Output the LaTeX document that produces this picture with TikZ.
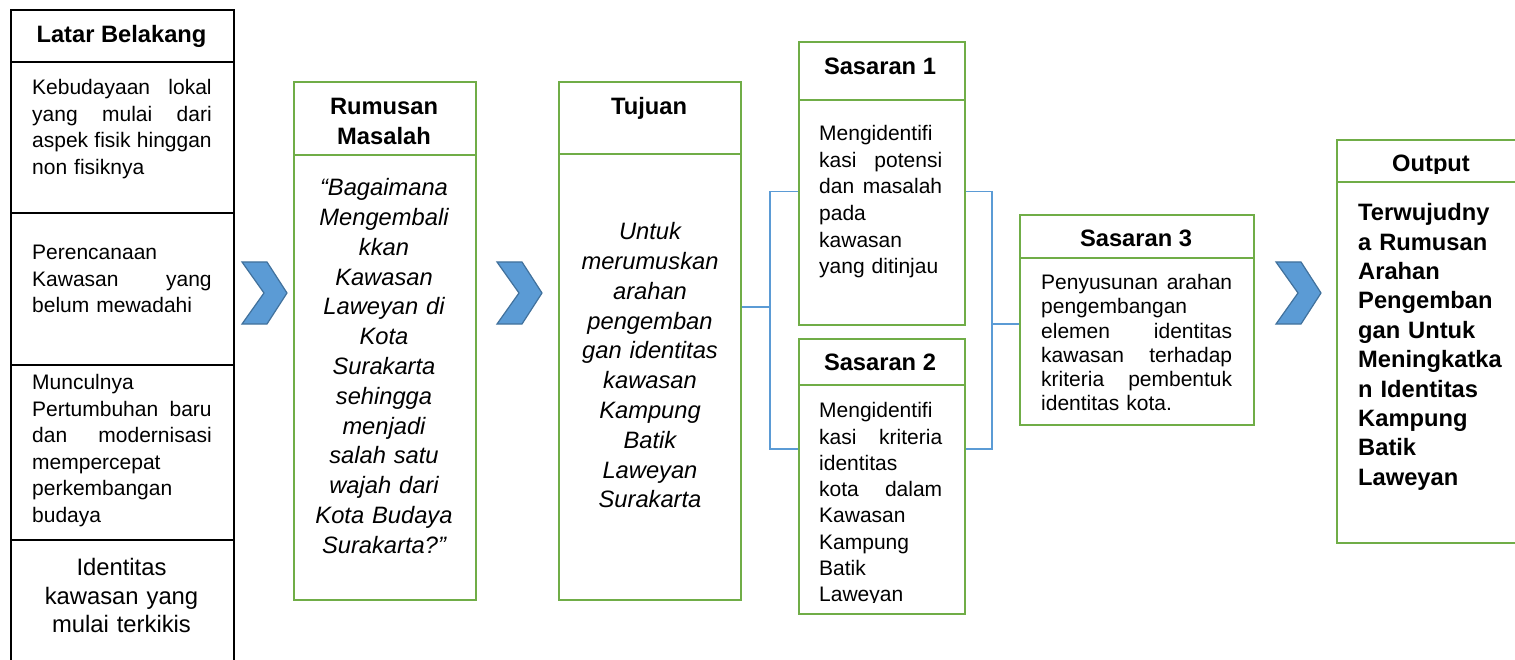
\documentclass[tikz,border=0pt]{standalone}
\usepackage{fontspec}
\setmainfont{Liberation Sans}
\definecolor{grn}{HTML}{70AD47}
\definecolor{blu}{HTML}{5B9BD5}
\definecolor{bludk}{HTML}{41719C}
\newcommand\jl[1]{\makebox[\linewidth][s]{\spaceskip=0pt\xspaceskip=0pt #1}}
\tikzset{
 gbox/.style={draw=grn, line width=2.4pt, inner sep=0pt, anchor=north west},
 kbox/.style={draw=black, line width=1.8pt, inner sep=0pt, anchor=north west},
 gline/.style={draw=grn, line width=2.4pt},
 kline/.style={draw=black, line width=1.8pt},
 conn/.style={draw=blu, line width=1.3pt},
 chev/.style={fill=blu, draw=bludk, line width=1.2pt, line join=miter},
 hd/.style={font=\fontsize{23.7}{30}\selectfont\bfseries, inner sep=0pt, anchor=base},
 bd/.style={font=\fontsize{21}{26.5}\selectfont, inner sep=0pt, anchor=north west, align=left},
 it/.style={font=\fontsize{23.7}{29.8}\selectfont\itshape, inner sep=0pt, anchor=north, align=center, text width=180pt},
 chevpic/.pic={\draw[chev] (0,0) -- (25,0) -- (45,31) -- (25,62) -- (0,62) -- (22,31) -- cycle;}
}
\begin{document}
\begin{tikzpicture}[x=1pt,y=-1pt]
\useasboundingbox (0,0) rectangle (1515,660);
\clip (0,0) rectangle (1515,660);
\fill[white] (0,0) rectangle (1515,660);

% boxes
\node[kbox, minimum width=223pt, minimum height=700pt] (lb) at (10,9) {};
\draw[kline] (lb.west |- 0,62) -- (lb.east |- 0,62);
\draw[kline] (lb.west |- 0,213) -- (lb.east |- 0,213);
\draw[kline] (lb.west |- 0,365) -- (lb.east |- 0,365);
\draw[kline] (lb.west |- 0,540) -- (lb.east |- 0,540);

\node[gbox, minimum width=182pt, minimum height=518pt] (rum) at (293,81) {};
\draw[gline] (rum.west |- 0,155) -- (rum.east |- 0,155);
\node[gbox, minimum width=182pt, minimum height=518pt] (tuj) at (558,81) {};
\draw[gline] (tuj.west |- 0,154) -- (tuj.east |- 0,154);
\node[gbox, minimum width=166pt, minimum height=283pt] (s1) at (798,41) {};
\draw[gline] (s1.west |- 0,100) -- (s1.east |- 0,100);
\node[gbox, minimum width=166pt, minimum height=275pt] (s2) at (798,338) {};
\draw[gline] (s2.west |- 0,385) -- (s2.east |- 0,385);
\node[gbox, minimum width=234pt, minimum height=210pt] (s3) at (1019,214) {};
\draw[gline] (s3.west |- 0,258) -- (s3.east |- 0,258);
\node[gbox, minimum width=190pt, minimum height=403pt] (out) at (1336,139) {};
\draw[gline] (out.west |- 0,182) -- (out.east |- 0,182);

% connectors
\coordinate (ja) at (770,307);
\coordinate (jt) at (770,191.5);
\coordinate (jb) at (770,449);
\coordinate (ka) at (992,191.5);
\coordinate (kb) at (992,449);
\coordinate (km) at (992,323.5);
\draw[conn, line width=2pt] (tuj.east |- ja) -- (ja);
\draw[conn] (s1.west |- jt) -- (jt) -- (jb) -- (s2.west |- jb);
\draw[conn] (s1.east |- ka) -- (ka) -- (kb) -- (s2.east |- kb);
\draw[conn, line width=2pt] (km) -- (s3.west |- km);

% chevrons
\pic at (242,262) {chevpic};
\pic at (497,262) {chevpic};
\pic at (1276,262) {chevpic};

% left column texts
\node[hd] (lt) at (121.5,42.5) {Latar Belakang};
\node[bd, text width=179.5pt] (lb1) at (32,75.95) {\strut\jl{Kebudayaan lokal}\\\jl{yang mulai dari}\\\jl{aspek fisik hinggan}\\non fisiknya};
\node[bd, text width=179.5pt] (lb2) at (32,240.95) {\strut Perencanaan\\\jl{Kawasan yang}\\belum mewadahi};
\node[bd, text width=179.5pt] (lb3) at (32,370.95) {\strut Munculnya\\\jl{Pertumbuhan baru}\\\jl{dan modernisasi}\\mempercepat\\perkembangan\\budaya};
\node[bd, font=\fontsize{23.8}{28.5}\selectfont, anchor=north, align=center, text width=200pt] (lb4) at (121.5,555.55) {\strut Identitas\\kawasan yang\\mulai terkikis};

% rumusan
\node[hd, anchor=north, align=center, text width=180pt] (rumh) at (384,93.5) {\strut Rumusan\\Masalah};
\node[it] (rumb) at (384,174.64) {\strut “Bagaimana\\Mengembali\\kkan\\Kawasan\\Laweyan di\\Kota\\Surakarta\\sehingga\\menjadi\\salah satu\\wajah dari\\Kota Budaya\\Surakarta?”};

% tujuan
\node[hd] (tujh) at (649,114.5) {Tujuan};
\node[it] (tujb) at (650,218.64) {\strut Untuk\\merumuskan\\arahan\\pengemban\\gan identitas\\kawasan\\Kampung\\Batik\\Laweyan\\Surakarta};

% sasaran 1
\node[hd] (s1h) at (880,74.5) {Sasaran 1};
\node[bd, text width=123pt, font=\fontsize{21}{26.6}\selectfont] (s1b) at (819,121.88) {\strut Mengidentifi\\\jl{kasi potensi}\\\jl{dan masalah}\\pada\\kawasan\\yang ditinjau};

% sasaran 2
\node[hd] (s2h) at (880,370.5) {Sasaran 2};
\begin{scope}
\clip (798,385) rectangle (964,602.5);
\node[bd, text width=123pt, font=\fontsize{21}{26.3}\selectfont] (s2b) at (819,399.09) {\strut Mengidentifi\\\jl{kasi kriteria}\\identitas\\\jl{kota dalam}\\Kawasan\\Kampung\\Batik\\Laweyan};
\end{scope}

% sasaran 3
\node[hd] (s3h) at (1136,246.5) {Sasaran 3};
\node[bd, text width=191pt, font=\fontsize{21}{24.2}\selectfont] (s3b) at (1041,272.56) {\strut\jl{Penyusunan arahan}\\pengembangan\\\jl{elemen identitas}\\\jl{kawasan terhadap}\\\jl{kriteria pembentuk}\\identitas kota.};

% output
\begin{scope}
\clip (1336,139) rectangle (1515,174);
\node[hd] (outh) at (1431,172) {Output};
\end{scope}
\node[bd, text width=160pt, font=\fontsize{23.7}{29.4}\selectfont\bfseries] (outb) at (1358,199.9) {\strut Terwujudny\\a Rumusan\\Arahan\\Pengemban\\gan Untuk\\Meningkatka\\n Identitas\\Kampung\\Batik\\Laweyan};
\end{tikzpicture}
\end{document}
